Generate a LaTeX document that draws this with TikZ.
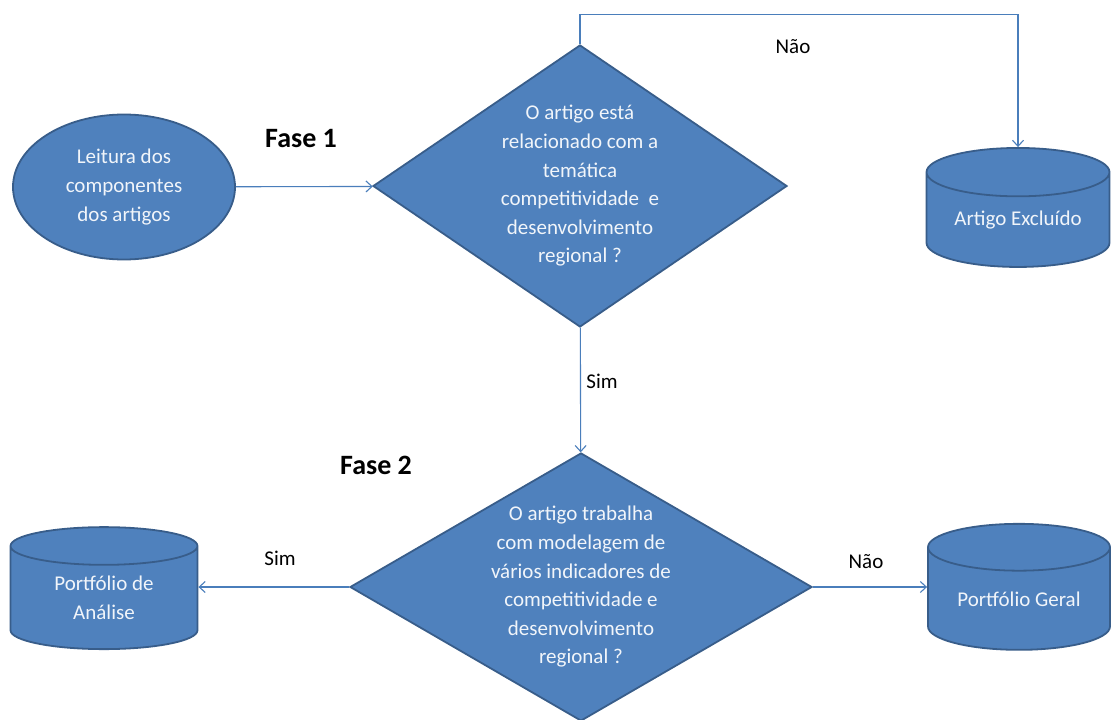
\documentclass[tikz,border=0pt]{standalone}
\usepackage{fontspec}
\setmainfont{Carlito}
\usepackage[dvipsnames]{xcolor}
\usetikzlibrary{shapes.geometric,arrows.meta}

\definecolor{shapeblue}{HTML}{4F81BD}
\definecolor{shapeedge}{HTML}{385D8A}
\definecolor{linkblue}{HTML}{4A7EBB}

\begin{document}
\begin{tikzpicture}[x=1pt,y=-1pt,>={Straight Barb[length=6pt,width=11pt]},
    main node/.style={fill=shapeblue,draw=shapeedge,line width=1.8pt,text=white!92!shapeblue,align=center,font=\fontsize{21}{28.6}\selectfont},
    start node/.style={main node,ellipse,inner sep=0pt,minimum width=222pt,minimum height=145pt},
    test node/.style={main node,diamond,aspect=1.47,inner sep=-40pt,minimum width=414pt,minimum height=282pt},
    store node/.style={main node,cylinder,shape border rotate=90,aspect=0.38,inner sep=0pt,minimum width=183pt,minimum height=119pt},
    link/.style={->,draw=linkblue,line width=1.1pt},
    label node/.style={font=\fontsize{21}{25}\selectfont,text=black},
    phase node/.style={font=\fontsize{28}{30}\bfseries,text=black}]

            \path[fill=white,use as bounding box] (0,0) rectangle (1114,720);

            \node[start node] (1) at (124,187) {Leitura dos\\componentes\\dos artigos};
            \node[test node] (2) at (580,186) {O artigo está\\relacionado com a\\temática\\competitividade~ e\\desenvolvimento\\regional ?};
            \node[store node] (3) at (1018,220) {Artigo Excluído};
            \node[test node,minimum width=462pt,minimum height=268pt] (4) at (581,587) {O artigo trabalha\\com modelagem de\\vários indicadores de\\competitividade e\\desenvolvimento\\regional ?};
            \node[store node,minimum width=187pt,minimum height=122pt] (5) at (104,598) {Portfólio de\\Análise};
            \node[store node,minimum width=182pt,minimum height=126pt] (6) at (1019,599) {Portfólio Geral};

            \node[phase node] (fase1) at (301,139) {Fase 1};
            \node[phase node] (fase2) at (376,465) {Fase 2};

            \node[label node] (nao1) at (793,47) {Não};
            \node[label node] (sim1) at (602,381) {Sim};
            \node[label node] (sim2) at (280,558) {Sim};
            \node[label node] (nao2) at (866,562) {Não};

            \draw[link] (1) -- (2);
            \draw[link] (2.north) -- ++(0,-30) -| (3.north);
            \draw[link] (2) -- (4);
            \draw[link] (4) -- (4 -| 5.east);
            \draw[link] (4) -- (4 -| 6.west);

        \end{tikzpicture}
\end{document}
